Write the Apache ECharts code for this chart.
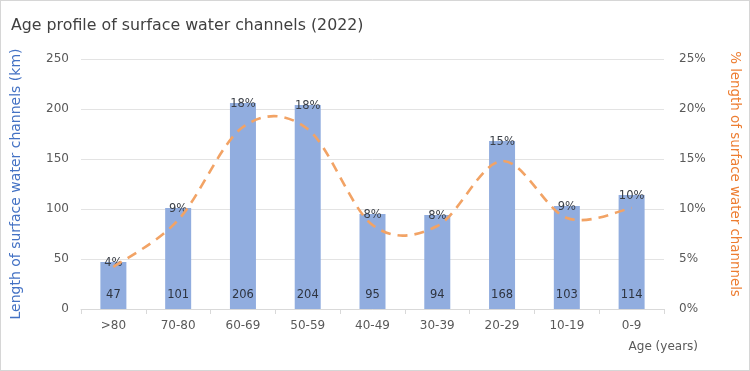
<!DOCTYPE html>
<html><head><meta charset="utf-8">
<script src="https://cdn.jsdelivr.net/npm/echarts@6/dist/echarts.min.js"></script>
<style>html,body{margin:0;padding:0;background:#fff}#c{width:750px;height:371px;box-sizing:border-box;border:1px solid #d6d6d6}</style>
</head><body><div id="c"></div>
<script>
const categories = ['>80','70-80','60-69','50-59','40-49','30-39','20-29','10-19','0-9'];
const lengthKm = [47,101,206,204,95,94,168,103,114];
const pctLabels = ['4%','9%','18%','18%','8%','8%','15%','9%','10%'];
const pctLine = [4.2,8.9,18.2,18.0,8.4,8.3,14.8,9.1,10.1];
const leftTicks = [0,50,100,150,200,250];
const rightTicks = [0,5,10,15,20,25];

const F = 'DejaVu Sans';
const chart = echarts.init(document.getElementById('c'));

function renderSpline(params, api){
  if (params.dataIndex !== 0) return null;
  const pts = pctLine.map((v,i)=>api.coord([i,v]));
  const n = pts.length;
  let d = 'M' + pts[0][0] + ' ' + pts[0][1];
  for (let i=0;i<n-1;i++){
    const p0 = pts[Math.max(i-1,0)], p1 = pts[i], p2 = pts[i+1], p3 = pts[Math.min(i+2,n-1)];
    const c1 = [p1[0]+(p2[0]-p0[0])/6, p1[1]+(p2[1]-p0[1])/6];
    const c2 = [p2[0]-(p3[0]-p1[0])/6, p2[1]-(p3[1]-p1[1])/6];
    d += ' C' + c1[0]+' '+c1[1]+' '+c2[0]+' '+c2[1]+' '+p2[0]+' '+p2[1];
  }
  return {type:'path',shape:{pathData:d},
    style:{fill:null,stroke:'#f2a365',lineWidth:2.6,lineDash:[10,7]}};
}

chart.setOption({
  animation:false,
  textStyle:{fontFamily:F},
  title:{text:'Age profile of surface water channels (2022)',left:5,top:12,
    textStyle:{fontFamily:F,fontSize:15.8,fontWeight:'normal',color:'#404040'}},
  grid:{left:80,right:85,top:58,bottom:61},
  xAxis:{type:'category',data:categories,
    axisLine:{lineStyle:{color:'#d9d9d9'}},
    axisTick:{show:true,lineStyle:{color:'#d9d9d9'}},
    axisLabel:{color:'#595959',fontSize:12,margin:11},
    name:'Age (years)',nameLocation:'end',nameGap:34,
    nameTextStyle:{color:'#595959',fontSize:12,align:'right',verticalAlign:'top',padding:[32,0,0,0]}},
  yAxis:[
    {type:'value',min:leftTicks[0],max:leftTicks[leftTicks.length-1],interval:50,
     name:'Length of surface water channels (km)',nameLocation:'middle',nameGap:58,
     nameTextStyle:{color:'#4472c4',fontSize:14},
     axisLabel:{color:'#595959',fontSize:12,margin:12},
     splitLine:{lineStyle:{color:'#e3e3e3'}},axisLine:{show:false},axisTick:{show:false}},
    {type:'value',min:rightTicks[0],max:rightTicks[rightTicks.length-1],interval:5,
     name:'% length of surface water channnels',nameLocation:'middle',nameGap:64,nameRotate:-90,
     nameTextStyle:{color:'#ed7d31',fontSize:13.4,padding:[0,20,0,0]},
     axisLabel:{color:'#595959',fontSize:12,margin:15,formatter:'{value}%'},
     splitLine:{show:false},axisLine:{show:false},axisTick:{show:false}}
  ],
  series:[
    {type:'bar',data:lengthKm,barWidth:26,itemStyle:{color:'#91addf'},
     label:{show:true,position:'insideBottom',distance:8,color:'#2e3440',fontSize:11.5}},
    {type:'bar',data:lengthKm,barWidth:26,barGap:'-100%',itemStyle:{color:'rgba(0,0,0,0)'},
     label:{show:true,position:'top',distance:-7,color:'#3a3f47',fontSize:11.5,
       formatter:p=>pctLabels[p.dataIndex]},z:5},
    {type:'custom',yAxisIndex:1,data:pctLine.map((v,i)=>[i,v]),renderItem:renderSpline,z:6,silent:true}
  ]
});
</script></body></html>
